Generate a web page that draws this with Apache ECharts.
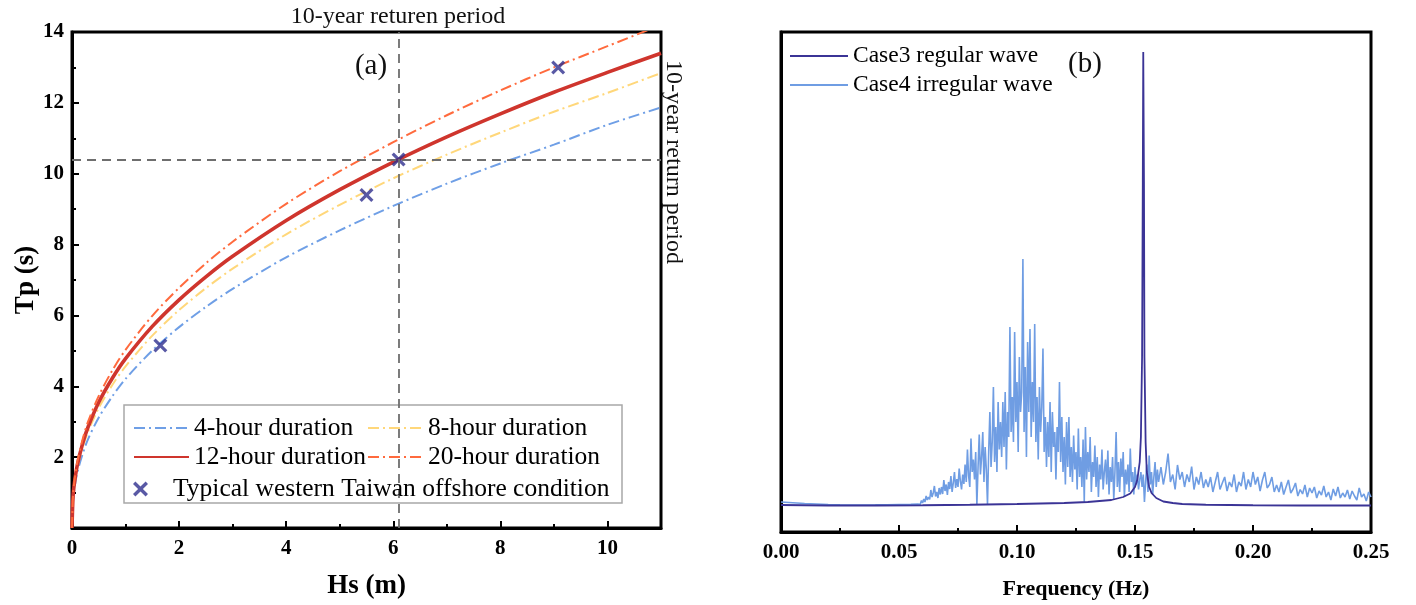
<!DOCTYPE html>
<html>
<head>
<meta charset="utf-8">
<script src="https://cdn.jsdelivr.net/npm/echarts@6/dist/echarts.min.js"></script>
<style>html,body{margin:0;padding:0;background:#fff}#c{width:1416px;height:605px}</style>
</head>
<body>
<div id="c"></div>
<script>
// ---------- Panel (a) data ----------
const hs    = [0, 0.02, 0.05, 0.1, 0.2, 0.3, 0.5, 0.75, 1, 1.5, 2, 2.5, 3, 4, 5, 6, 7, 8, 9, 10, 11];
const tp4h  = [0, 0.79, 1.16, 1.57, 2.10, 2.51, 3.12, 3.71, 4.21, 5.01, 5.67, 6.24, 6.75, 7.64, 8.40, 9.09, 9.72, 10.29, 10.82, 11.38, 11.87];
const tp8h  = [0, 0.86, 1.26, 1.70, 2.28, 2.72, 3.39, 4.03, 4.56, 5.43, 6.15, 6.77, 7.32, 8.29, 9.12, 9.87, 10.54, 11.16, 11.75, 12.28, 12.84];
const tp12h = [0, 0.90, 1.32, 1.78, 2.39, 2.85, 3.55, 4.22, 4.78, 5.69, 6.44, 7.09, 7.67, 8.68, 9.55, 10.33, 11.04, 11.69, 12.30, 12.86, 13.40];
const tp20h = [0, 0.95, 1.39, 1.87, 2.51, 3.00, 3.73, 4.44, 5.03, 5.99, 6.78, 7.47, 8.08, 9.15, 10.07, 10.89, 11.65, 12.35, 13.00, 13.60, 14.20];
const markerHs = [1.65, 5.5, 6.1, 9.08];
const markerTp = [5.15, 9.4, 10.4, 13.0];
const returnHs = 6.1;
const returnTp = 10.4;
const xTicksA = [0, 11, 2];   // min, max, interval
const yTicksA = [0, 14, 2];

// ---------- Panel (b) data ----------
const regFreq = [0, 0.02, 0.04, 0.06, 0.08, 0.1, 0.12, 0.13, 0.14, 0.145, 0.148, 0.15, 0.151, 0.152, 0.1525, 0.153, 0.1533, 0.1535, 0.1538, 0.154, 0.1545, 0.155, 0.156, 0.157, 0.159, 0.162, 0.166, 0.17, 0.18, 0.2, 0.22, 0.25];
const regAmp  = [5.4, 5.3, 5.3, 5.35, 5.45, 5.6, 5.8, 6.0, 6.4, 7.0, 7.7, 9.0, 10.5, 14, 19, 35, 70, 96, 70, 35, 18, 12, 9, 7.8, 6.8, 6.1, 5.8, 5.6, 5.45, 5.35, 5.3, 5.3];

const irrBaseFreq = [0, 0.005, 0.01, 0.015, 0.02, 0.025, 0.03, 0.035, 0.04, 0.045, 0.05, 0.055];
const irrBaseAmp  = [6.0, 5.85, 5.7, 5.6, 5.5, 5.42, 5.38, 5.4, 5.42, 5.45, 5.5, 5.55];
// sampled every 0.0005 Hz from 0.058 to 0.160
const irrMidStart = 0.058, irrMidStep = 0.0005;
const irrMidAmp = [
 5.6,5.9,5.5,6.3,5.8,6.6,6.0,7.2,6.4,7.0,
 6.5,8.4,7.0,7.8,9.2,7.1,8.0,6.8,8.8,7.5,
 9.0,7.6,10.4,8.2,9.5,7.4,10.0,8.6,11.2,8.0,
 9.8,12.0,8.8,10.6,9.0,12.7,10.2,8.5,11.5,9.6,
 13.5,10.0,16.5,11.2,9.0,18.7,12.0,14.5,10.5,16.0,
 5.4,13.0,19.5,11.5,15.0,20.0,10.0,17.0,12.5,5.5,
 16.0,24.0,13.0,18.0,29.0,14.0,21.0,12.0,26.0,16.5,
 22.0,15.0,26.0,17.0,28.0,12.5,24.0,19.0,41.0,20.0,
 27.0,18.0,40.0,22.0,30.0,16.0,35.0,24.0,28.0,54.6,
 20.0,33.0,15.0,38.0,24.0,40.6,19.0,30.0,22.0,41.6,
 18.0,27.0,14.5,29.0,20.0,25.0,36.7,16.0,23.0,13.0,
 22.0,15.0,26.0,12.0,24.0,17.0,20.0,10.5,21.0,16.0,
 30.0,14.0,23.0,12.0,19.0,9.5,22.0,13.0,23.0,11.0,
 17.0,10.0,19.3,12.5,16.0,8.5,20.7,11.0,15.0,9.0,
 18.5,6.0,21.0,10.5,16.0,12.0,19.0,8.0,14.0,11.0,
 17.3,9.0,15.0,7.0,13.5,10.5,16.5,8.5,12.0,14.5,
 9.5,16.3,7.5,13.0,10.0,15.0,6.5,12.0,20.0,9.0,
 14.0,8.0,14.7,11.0,16.0,7.0,12.5,9.5,13.5,8.0,
 16.7,10.0,12.0,7.5,13.0,9.5,11.5,8.5,10.5,12.0,
 9.0,11.5,6.0,10.0,13.5,8.0,15.3,9.5,12.0,7.5,
 11.0,14.0,9.0,12.5,10.0
];
// sampled every 0.001 Hz from 0.161 to 0.250
const irrHighStart = 0.161, irrHighStep = 0.001;
const irrHighAmp = [
 13.0,9.5,12.0,15.7,10.0,11.5,8.5,13.4,10.5,12.0,
 9.0,11.5,10.0,13.1,8.5,11.0,9.5,12.0,8.8,10.5,
 9.0,11.0,8.0,10.0,12.0,8.5,9.8,11.0,8.2,10.0,
 9.0,11.5,8.0,10.0,9.2,12.0,8.5,10.5,9.0,12.0,
 9.5,11.0,8.2,10.4,12.0,8.8,9.5,11.0,8.0,9.4,
 8.0,10.0,7.5,9.0,10.4,7.8,8.6,9.8,7.2,8.5,
 7.6,9.4,7.0,8.8,7.8,9.0,6.8,8.2,7.4,9.2,
 7.0,8.0,6.4,8.6,7.2,9.0,6.8,7.8,7.0,8.4,
 6.6,8.2,7.2,6.4,8.8,7.0,7.6,6.2,8.0,7.0
];
const xTicksB = [0, 0.25, 0.05];

// ---------- build ----------
const serif = '"Liberation Serif", "Times New Roman", serif';
const pairs = (xs, ys) => xs.map((x, i) => [x, ys[i]]);
const irrData = pairs(irrBaseFreq, irrBaseAmp)
  .concat(irrMidAmp.map((v, i) => [+(irrMidStart + i * irrMidStep).toFixed(4), v]))
  .concat(irrHighAmp.map((v, i) => [+(irrHighStart + i * irrHighStep).toFixed(4), v]));

const dashDot = [11, 4, 2, 4];
const xMark = 'path://M0,1.6 L1.6,0 L5,3.4 L8.4,0 L10,1.6 L6.6,5 L10,8.4 L8.4,10 L5,6.6 L1.6,10 L0,8.4 L3.4,5 Z';

const axisCommon = {
  axisLine: {show: true, onZero: false, lineStyle: {color: '#000', width: 3}},
  axisTick: {show: true, inside: true, length: 7, lineStyle: {color: '#000', width: 2}},
  minorTick: {show: true, splitNumber: 2, length: 4, lineStyle: {color: '#000', width: 2}},
  splitLine: {show: false},
  axisLabel: {color: '#000', fontFamily: serif, fontWeight: 'bold', fontSize: 21, margin: 10}
};

const lineSeries = (name, data, color, width, type) => ({
  name, type: 'line', xAxisIndex: 0, yAxisIndex: 0,
  data: pairs(hs, data), symbol: 'none', smooth: 0.3, clip: true,
  lineStyle: {color, width, type}, itemStyle: {color}, z: 3
});

const chart = echarts.init(document.getElementById('c'), null, {renderer: 'canvas'});
const legendText = {fontFamily: serif, fontSize: 25.5, color: '#000'};
const noDot = {opacity: 0};

chart.setOption({
  animation: false,
  backgroundColor: '#fff',
  grid: [
    {left: 72, top: 32, width: 589, height: 502, show: true, borderColor: '#000', borderWidth: 3, backgroundColor: 'transparent'},
    {left: 781, top: 32, width: 590, height: 502, show: true, borderColor: '#000', borderWidth: 3, backgroundColor: 'transparent'}
  ],
  xAxis: [
    Object.assign({}, axisCommon, {
      type: 'value', gridIndex: 0, min: xTicksA[0], max: xTicksA[1], interval: xTicksA[2],
      name: 'Hs (m)', nameLocation: 'middle', nameGap: 45,
      nameTextStyle: {fontFamily: serif, fontWeight: 'bold', fontSize: 27, color: '#000'},
      axisLabel: Object.assign({}, axisCommon.axisLabel, {showMaxLabel: false})
    }),
    Object.assign({}, axisCommon, {
      type: 'value', gridIndex: 1, min: xTicksB[0], max: xTicksB[1], interval: xTicksB[2],
      name: 'Frequency (Hz)', nameLocation: 'middle', nameGap: 46,
      nameTextStyle: {fontFamily: serif, fontWeight: 'bold', fontSize: 22, color: '#000'},
      axisLabel: Object.assign({}, axisCommon.axisLabel, {formatter: v => v.toFixed(2)})
    })
  ],
  yAxis: [
    Object.assign({}, axisCommon, {
      type: 'value', gridIndex: 0, min: yTicksA[0], max: yTicksA[1], interval: yTicksA[2],
      name: 'Tp (s)', nameLocation: 'middle', nameGap: 29, nameRotate: 90,
      nameTextStyle: {fontFamily: serif, fontWeight: 'bold', fontSize: 27, color: '#000'},
      axisLabel: Object.assign({}, axisCommon.axisLabel, {showMinLabel: false, margin: 8})
    }),
    {
      type: 'value', gridIndex: 1, min: 0, max: 100,
      axisLine: {show: true, lineStyle: {color: '#000', width: 3}},
      axisTick: {show: false}, axisLabel: {show: false}, splitLine: {show: false}
    }
  ],
  legend: [
    {data: ['4-hour duration', '12-hour duration'], orient: 'vertical', left: 128, top: 410,
     itemWidth: 55, itemHeight: 14, itemGap: 3, itemStyle: noDot, textStyle: legendText, z: 6},
    {data: ['8-hour duration', '20-hour duration'], orient: 'vertical', left: 362, top: 410,
     itemWidth: 55, itemHeight: 14, itemGap: 3, itemStyle: noDot, textStyle: legendText, z: 6},
    {data: ['Typical western Taiwan offshore condition'], orient: 'vertical', left: 128, top: 471,
     itemWidth: 55, itemHeight: 15, textStyle: legendText, z: 6},
    {data: ['Case3 regular wave', 'Case4 irregular wave'], orient: 'vertical', left: 784, top: 39,
     itemWidth: 58, itemHeight: 12, itemGap: 5, itemStyle: noDot,
     textStyle: {fontFamily: serif, fontSize: 23.5, color: '#000'}}
  ],
  graphic: [
    {type: 'rect', z: 5, shape: {x: 124, y: 405, width: 498, height: 98},
     style: {fill: '#fff', stroke: '#a8a8a8', lineWidth: 1.5}},
    {type: 'text', x: 398, y: 17, z: 6,
     style: {text: '10-year returen period', font: '24px ' + serif, fill: '#111', textAlign: 'center', textVerticalAlign: 'middle'}},
    {type: 'text', x: 673, y: 162, rotation: -Math.PI / 2, z: 6,
     style: {text: '10-year return period', font: '24px ' + serif, fill: '#111', textAlign: 'center', textVerticalAlign: 'middle'}},
    {type: 'text', x: 371, y: 66, z: 6,
     style: {text: '(a)', font: '29px ' + serif, fill: '#111', textAlign: 'center', textVerticalAlign: 'middle'}},
    {type: 'text', x: 1085, y: 64, z: 6,
     style: {text: '(b)', font: '29px ' + serif, fill: '#111', textAlign: 'center', textVerticalAlign: 'middle'}}
  ],
  series: [
    lineSeries('4-hour duration', tp4h, '#6f9fe6', 2, dashDot),
    lineSeries('8-hour duration', tp8h, '#ffd77a', 2, dashDot),
    Object.assign(lineSeries('12-hour duration', tp12h, '#cf352d', 3.6, 'solid'), {
      markLine: {
        silent: true, symbol: 'none', label: {show: false},
        lineStyle: {color: '#6e6e6e', width: 1.8, type: [9, 6]},
        data: [{xAxis: returnHs}, {yAxis: returnTp}]
      }
    }),
    lineSeries('20-hour duration', tp20h, '#ff6a3d', 2, dashDot),
    {
      name: 'Typical western Taiwan offshore condition', type: 'scatter', xAxisIndex: 0, yAxisIndex: 0,
      data: pairs(markerHs, markerTp), symbol: xMark, symbolSize: 14,
      itemStyle: {color: '#30308f'}, z: 4
    },
    {
      name: 'Case4 irregular wave', type: 'line', xAxisIndex: 1, yAxisIndex: 1,
      data: irrData, symbol: 'none', lineStyle: {color: '#6f9de3', width: 1.6}, itemStyle: {color: '#6f9de3'}, z: 2
    },
    {
      name: 'Case3 regular wave', type: 'line', xAxisIndex: 1, yAxisIndex: 1,
      data: pairs(regFreq, regAmp), symbol: 'none', lineStyle: {color: '#3b3496', width: 1.8}, itemStyle: {color: '#3b3496'}, z: 3
    }
  ]
});
</script>
</body>
</html>
